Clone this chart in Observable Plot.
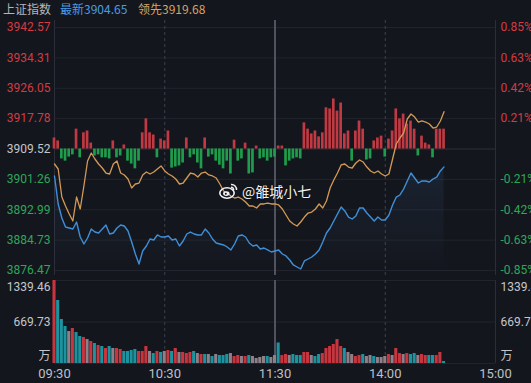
<!DOCTYPE html>
<html><head><meta charset="utf-8">
<script src="https://cdn.jsdelivr.net/npm/d3@7"></script>
<script src="https://cdn.jsdelivr.net/npm/@observablehq/plot@0.6"></script>
<style>
html,body{margin:0;padding:0;background:#14161d;width:531px;height:383px;overflow:hidden;}
#wrap{position:relative;width:531px;height:383px;}
#main,#vol{position:absolute;left:0;}
#main{top:0;}
#vol{top:277px;}
.hd{position:absolute;top:0;height:16px;line-height:16px;font:12px "Noto Sans CJK SC","Roboto",sans-serif;white-space:nowrap;z-index:3;}
#wm{position:absolute;left:219px;top:181px;z-index:3;display:flex;align-items:center;gap:4px;}
#wm span{font:14px "Noto Sans CJK SC",sans-serif;color:#f2f2f2;text-shadow:0 0 2px rgba(0,0,0,.7);}
</style></head>
<body><div id="wrap">
<div class="hd" style="left:3px;color:#b4b6bb">上证指数</div>
<div class="hd" style="left:60px;color:#4b9de2">最新3904.65</div>
<div class="hd" style="left:138px;color:#d9a262">领先3919.68</div>
<div id="main"></div><div id="vol"></div>
<div id="wm"><svg width="19" height="16" viewBox="0 0 19 16"><ellipse cx="8" cy="10" rx="7.2" ry="5.2" fill="none" stroke="#f2f2f2" stroke-width="1.6"/><ellipse cx="7.3" cy="10.6" rx="3.2" ry="2.4" fill="#f2f2f2"/><circle cx="6.8" cy="10.8" r="1" fill="#14161d"/><path d="M12 1.5 A5 5 0 0 1 17.5 7" fill="none" stroke="#f2f2f2" stroke-width="1.5"/><path d="M12 4.3 A2.4 2.4 0 0 1 14.7 7" fill="none" stroke="#f2f2f2" stroke-width="1.3"/></svg><span>@雒城小七</span></div>
</div>
<script>
const prevClose = 3909.52;
const minutes = [0,2,4,6,8,10,12,14,16,18,20,22,24,26,28,30,32,34,36,38,40,42,44,46,48,50,52,54,56,58,60,62,64,66,68,70,72,74,76,78,80,82,84,86,88,90,92,94,96,98,100,102,104,106,108,110,112,114,116,118,120,122,124,126,128,130,132,134,136,138,140,142,144,146,148,150,152,154,156,158,160,162,164,166,168,170,172,174,176,178,180,182,184,186,188,190,192,194,196,198,200,202,204,206,208,210,212];
// change vs previous close (points)
const latestChg = [-7.34,-14.96,-18.77,-21.22,-21.49,-21.76,-19.86,-23.94,-25.84,-24.21,
  -21.76,-22.58,-22.85,-21.76,-20.67,-23.12,-22.85,-21.49,-20.67,-20.94,
  -22.30,-25.30,-28.56,-31.28,-27.74,-26.38,-24.48,-24.75,-23.39,-23.94,
  -23.94,-23.66,-24.75,-24.48,-26.38,-25.02,-23.12,-22.58,-23.12,-23.39,
  -23.39,-21.76,-22.85,-24.48,-25.57,-25.84,-26.11,-26.66,-27.47,-25.84,
  -23.66,-23.39,-23.94,-25.57,-26.38,-26.11,-27.20,-26.93,-27.47,-28.02,
  -27.74,-27.47,-28.56,-29.10,-30.19,-31.55,-32.10,-32.64,-30.46,-29.92,
  -29.38,-28.56,-27.47,-25.30,-22.85,-21.49,-19.58,-17.68,-15.78,-16.86,
  -18.50,-19.04,-18.22,-16.05,-16.05,-17.41,-18.50,-19.58,-18.50,-19.31,
  -19.31,-17.95,-15.23,-13.06,-12.51,-10.88,-8.70,-6.53,-7.89,-9.25,
  -8.70,-8.70,-8.98,-8.16,-7.62,-5.98,-4.87];
const leadChg = [-4.08,-5.44,-13.06,-15.50,-17.68,-19.58,-13.06,-16.32,-10.06,-3.26,
  -1.09,-2.72,-4.08,-5.17,-6.53,-6.80,-4.08,-3.26,-6.53,-7.07,
  -8.16,-10.61,-9.52,-9.25,-7.07,-6.26,-6.80,-6.26,-5.44,-4.62,
  -5.98,-6.80,-7.34,-8.16,-9.52,-9.25,-7.89,-6.53,-6.80,-7.62,
  -6.53,-6.26,-7.07,-7.34,-7.89,-9.52,-11.42,-11.97,-12.78,-13.33,
  -13.06,-13.60,-14.42,-15.50,-15.50,-16.05,-14.96,-14.96,-14.69,-14.96,
  -14.96,-15.23,-16.32,-17.95,-19.58,-20.40,-20.94,-19.86,-18.50,-17.41,
  -17.14,-16.32,-14.96,-16.05,-14.14,-10.61,-8.43,-6.53,-4.35,-4.08,
  -4.90,-5.17,-3.81,-2.99,-3.54,-4.90,-5.98,-6.53,-5.98,-6.80,
  -7.34,-6.80,-2.72,1.36,2.99,4.35,8.16,9.52,8.70,7.34,
  7.62,7.34,6.80,5.71,5.98,7.62,10.16];
const strength = [3.0,2.2,-2.7,-3.3,-2.2,-1.6,5.4,-2.4,4.4,4.9,
  1.6,-1.9,-1.6,-2.4,-2.4,-2.7,2.2,-2.4,-1.9,1.1,
  -3.3,-4.1,-5.4,-3.3,4.4,8.2,4.4,3.8,-2.4,2.7,
  2.2,4.9,-5.2,-4.9,-4.6,-3.8,3.0,-2.4,-1.6,-3.8,
  -5.4,3.0,-2.2,-1.6,-3.3,-4.4,-5.4,-3.3,-6.8,2.4,
  -3.3,-2.7,1.6,-6.8,-6.5,0.8,-2.7,-2.4,-3.3,-2.4,
  -2.2,0.8,0.8,-4.6,-3.3,-2.7,-2.4,-2.7,7.1,5.4,
  4.1,4.9,3.3,4.4,11.2,10.9,13.6,10.3,12.5,4.1,
  4.9,-3.3,4.9,7.6,5.4,-3.0,-2.7,2.2,3.0,3.5,
  -2.2,2.7,4.9,10.9,8.2,9.5,6.8,7.6,5.4,-1.9,
  3.5,1.6,1.1,-2.4,5.4,5.4,5.4];
const volume = [1339.46,1017,710,597,516,565,500,436,420,387,
  355,323,291,274,242,274,242,242,226,194,
  194,210,226,194,194,274,194,161,194,178,
  194,210,194,242,178,178,161,178,194,161,
  145,145,145,113,145,129,129,145,161,113,
  129,113,113,129,113,81,97,113,113,97,
  129,331,129,145,129,145,129,129,178,178,
  129,113,145,161,242,274,307,387,274,242,
  178,145,113,129,145,113,129,113,97,97,
  113,145,129,242,161,145,161,145,161,129,
  145,129,129,129,129,178,32];
const volDir = ["r","t","t","t","g","r","t","t","r","g",
  "r","t","r","t","r","t","g","r","r","t",
  "t","t","t","r","r","r","g","t","r","t",
  "g","r","t","r","g","r","r","r","t","g",
  "r","t","g","t","g","t","t","t","g","r",
  "r","g","r","t","g","g","g","g","t","g",
  "g","t","r","r","g","t","t","t","r","r",
  "g","t","t","r","r","r","r","r","r","t",
  "g","g","r","r","t","g","g","t","g","g",
  "g","r","g","r","r","g","r","t","t","g",
  "r","r","t","t","r","r","t"];
const priceTickLabels = ["3942.57","3934.31","3926.05","3917.78","3909.52","3901.26","3892.99","3884.73","3876.47"];
const pctTickLabels = ["0.85%","0.63%","0.42%","0.21%","","-0.21%","-0.42%","-0.63%","-0.85%"];
const volTickValues = [1339.46, 669.73, 0];
const volTickLabels = ["1339.46","669.73","万"];
const timeTicks = [0,60,120,180,240];
const timeLabels = ["09:30","10:30","11:30","14:00","15:00"];

const rows = minutes.map((m,i)=>({m, blue: latestChg[i], orange: leadChg[i], bar: strength[i], vol: volume[i], dir: volDir[i]}));
const pTicks = priceTickLabels.map((s,i)=>({v: +s - prevClose, label: s, pct: pctTickLabels[i], side: i<4?"up":(i===4?"flat":"down")}));
const sideColor = {up:"#d33b42", flat:"#c4c6cb", down:"#2ea65a"};
const volColor = {r:"#c7363f", t:"#1c939e", g:"#8f7f89"};
const vTicks = volTickValues.map((v,i)=>({v, label: volTickLabels[i]}));
const tTicks = timeTicks.map((t,i)=>({t, label: timeLabels[i]}));

function gradDefs(){
  const ns="http://www.w3.org/2000/svg";
  const defs=document.createElementNS(ns,"defs");
  defs.innerHTML='<linearGradient id="blueGrad" gradientUnits="userSpaceOnUse" x1="0" y1="27" x2="0" y2="270"><stop offset="0" stop-color="#4a90d9" stop-opacity="0.26"/><stop offset="1" stop-color="#4a90d9" stop-opacity="0"/></linearGradient>';
  return defs;
}
const yLo = -33.05, yHi = 33.05;
const main = Plot.plot({
  width: 531, height: 277, marginLeft: 54, marginRight: 36, marginTop: 27, marginBottom: 7,
  x: {domain: [0,240], axis: null},
  y: {domain: [yLo, yHi], axis: null},
  style: {background: "transparent", fontFamily: "Roboto, sans-serif", fontSize: "12px"},
  marks: [
    gradDefs,
    Plot.ruleY(pTicks, {y: "v", stroke: d => d.side==="flat" ? "#2e313b" : "#21242d"}),
    Plot.ruleX([0,240], {stroke: "#2b2e38", y1: 34.95, y2: -34.4}),
    Plot.ruleX([60,180], {stroke: "#3d414d", strokeDasharray: "3,3", y1: 34.95, y2: -34.4}),
    Plot.ruleX([120], {stroke: "#4f535f", strokeWidth: 2, y1: 34.95, y2: -34.4}),
    Plot.areaY(rows, {x: "m", y1: yLo, y2: "blue", fill: "url(#blueGrad)"}),
    Plot.rectY(rows, {x1: d=>d.m-1, x2: d=>d.m+1, y1: 0, y2: "bar", insetLeft: 0.5, insetRight: 0.5, fill: d => d.bar>=0 ? "#c13a43" : "#1f9d4c"}),
    Plot.lineY(rows, {x: "m", y: "orange", stroke: "#d49a55", strokeWidth: 1.3}),
    Plot.lineY(rows, {x: "m", y: "blue", stroke: "#3f8fd8", strokeWidth: 1.4}),
    Plot.text(pTicks, {x: 0, y: "v", text: "label", textAnchor: "end", dx: -4, fill: d => sideColor[d.side]}),
    Plot.text(pTicks, {x: 240, y: "v", text: "pct", textAnchor: "start", dx: 5, fill: d => sideColor[d.side]})
  ]
});
document.getElementById("main").appendChild(main);

const vol = Plot.plot({
  width: 531, height: 106, marginLeft: 54, marginRight: 36, marginTop: 3, marginBottom: 20,
  x: {domain: [0,240], axis: null},
  y: {domain: [0, 1339.46], axis: null},
  style: {background: "transparent", fontFamily: "Roboto, 'Noto Sans CJK SC', sans-serif", fontSize: "12px"},
  marks: [
    Plot.ruleY([1339.46, 669.73, 0], {stroke: "#21242d"}),
    Plot.ruleX([0,240], {stroke: "#2b2e38"}),
    Plot.ruleX([60,180], {stroke: "#3d414d", strokeDasharray: "3,3"}),
    Plot.ruleX([120], {stroke: "#4f535f", strokeWidth: 2}),
    Plot.rectY(rows, {x1: d=>d.m-1, x2: d=>d.m+1, y1: 0, y2: "vol", insetLeft: 0.3, insetRight: 0.3, fill: d => volColor[d.dir]}),
    Plot.text(vTicks.slice(0,1), {x: 0, y: "v", text: "label", textAnchor: "end", dx: -4, dy: 7, fill: "#c4c6cb"}),
    Plot.text(vTicks.slice(1,2), {x: 0, y: "v", text: "label", textAnchor: "end", dx: -4, fill: "#c4c6cb"}),
    Plot.text(vTicks.slice(2,3), {x: 0, y: "v", text: "label", textAnchor: "end", dx: -4, dy: -7, fill: "#c4c6cb"}),
    Plot.text(vTicks.slice(0,1), {x: 240, y: "v", text: "label", textAnchor: "start", dx: 5, dy: 7, fill: "#c4c6cb"}),
    Plot.text(vTicks.slice(1,2), {x: 240, y: "v", text: "label", textAnchor: "start", dx: 5, fill: "#c4c6cb"}),
    Plot.text(vTicks.slice(2,3), {x: 240, y: "v", text: "label", textAnchor: "start", dx: 5, dy: -7, fill: "#c4c6cb"}),
    Plot.text(tTicks, {x: "t", text: "label", frameAnchor: "bottom", dy: 14, fill: "#bcc0c8", fontSize: 13})
  ]
});
document.getElementById("vol").appendChild(vol);
</script>
</body></html>
